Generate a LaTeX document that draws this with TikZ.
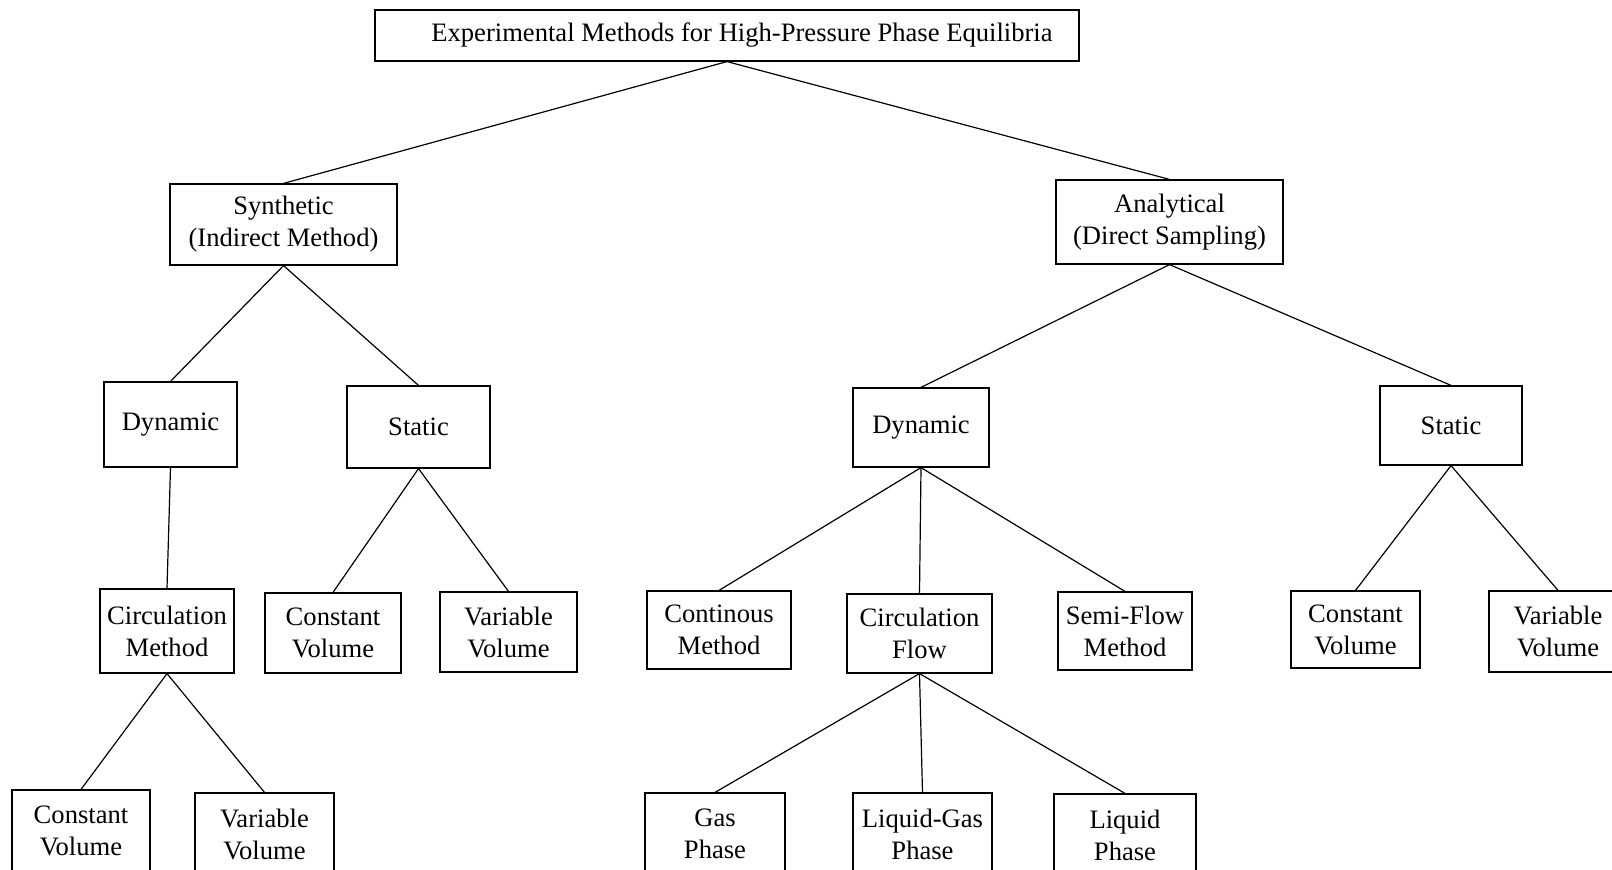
\documentclass[tikz,border=0pt]{standalone}
\usepackage{fontspec}
\setmainfont{Liberation Serif}
\begin{document}
\begin{tikzpicture}[x=0.5pt,y=-0.5pt,
  box/.style={draw, line width=0.6pt, inner sep=0pt, align=center,
    font=\fontsize{13.3}{16}\selectfont},
  link/.style={line width=0.6pt}]
\useasboundingbox (0,0) rectangle (1612,870);
\clip (0,0) rectangle (1612,870);
% level 0
\node[box, minimum width=352pt, minimum height=25.5pt] (top) at (727,35.5) {\hspace*{15pt}Experimental Methods for High-Pressure Phase Equilibria};
% level 1
\node[box, minimum width=113.5pt, minimum height=40.5pt] (syn) at (283.5,224.5) {Synthetic\\(Indirect Method)};
\node[box, minimum width=113.5pt, minimum height=42pt] (ana) at (1169.5,222) {Analytical\\(Direct Sampling)};
% level 2
\node[box, minimum width=66.5pt, minimum height=42.5pt] (ldyn) at (170.5,424.5) {Dynamic};
\node[box, minimum width=71.5pt, minimum height=41pt] (lsta) at (418.5,427) {Static};
\node[box, minimum width=68pt, minimum height=39.5pt] (rdyn) at (921,427.5) {Dynamic};
\node[box, minimum width=71pt, minimum height=39.5pt] (rsta) at (1451,425.5) {Static};
% level 3
\node[box, minimum width=67pt, minimum height=42pt] (lcirc) at (167,631) {Circulation\\Method};
\node[box, minimum width=68pt, minimum height=40pt] (lcv) at (333,633) {Constant\\Volume};
\node[box, minimum width=68.5pt, minimum height=40pt] (lvv) at (508.5,632) {Variable\\Volume};
\node[box, minimum width=72pt, minimum height=39pt] (cont) at (719,630) {Continous\\Method};
\node[box, minimum width=72.5pt, minimum height=39.5pt] (cflow) at (919.5,633.5) {Circulation\\Flow};
\node[box, minimum width=67pt, minimum height=39pt] (semi) at (1125,631) {Semi-Flow\\Method};
\node[box, minimum width=64.5pt, minimum height=38.5pt] (rcv) at (1355.5,629.5) {Constant\\Volume};
\node[box, minimum width=69pt, minimum height=40.5pt] (rvv) at (1558,631.5) {Variable\\Volume};
% level 4
\node[box, minimum width=69pt, minimum height=41pt] (bcv) at (81,831) {Constant\\Volume};
\node[box, minimum width=69.5pt, minimum height=41pt] (bvv) at (264.5,834) {Variable\\Volume};
\node[box, minimum width=70pt, minimum height=41pt] (gas) at (715,834) {Gas\\Phase};
\node[box, minimum width=69.5pt, minimum height=41pt] (lg) at (922.5,834) {Liquid-Gas\\Phase};
\node[box, minimum width=71pt, minimum height=41pt] (liq) at (1125,835) {Liquid\\Phase};
% connectors
\draw[link] (top.south) -- (syn.north);
\draw[link] (top.south) -- (ana.north);
\draw[link] (syn.south) -- (ldyn.north);
\draw[link] (syn.south) -- (lsta.north);
\draw[link] (ana.south) -- (rdyn.north);
\draw[link] (ana.south) -- (rsta.north);
\draw[link] (ldyn.south) -- (lcirc.north);
\draw[link] (lsta.south) -- (lcv.north);
\draw[link] (lsta.south) -- (lvv.north);
\draw[link] (rdyn.south) -- (cont.north);
\draw[link] (rdyn.south) -- (cflow.north);
\draw[link] (rdyn.south) -- (semi.north);
\draw[link] (rsta.south) -- (rcv.north);
\draw[link] (rsta.south) -- (rvv.north);
\draw[link] (lcirc.south) -- (bcv.north);
\draw[link] (lcirc.south) -- (bvv.north);
\draw[link] (cflow.south) -- (gas.north);
\draw[link] (cflow.south) -- (lg.north);
\draw[link] (cflow.south) -- (liq.north);
\end{tikzpicture}
\end{document}
